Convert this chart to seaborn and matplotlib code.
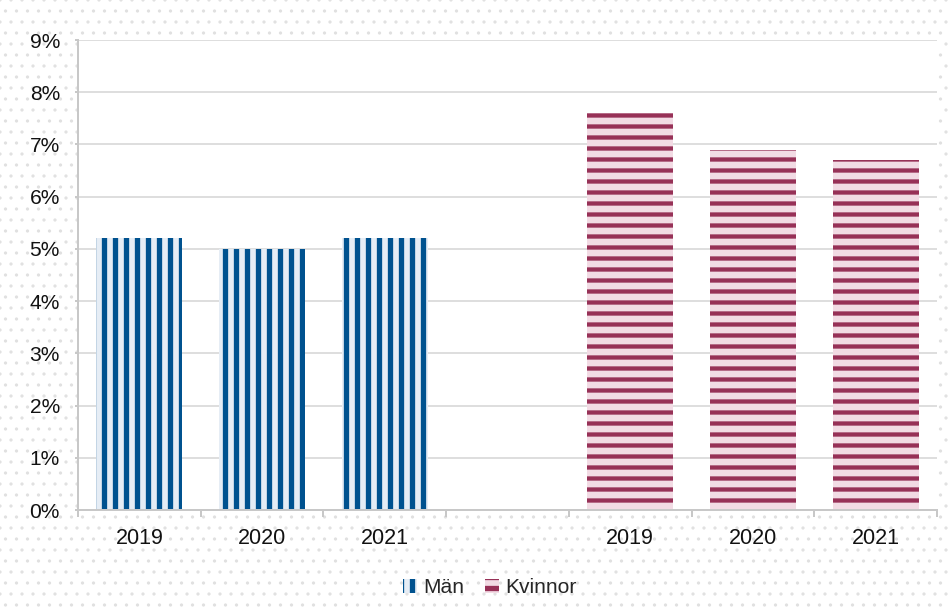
import matplotlib
matplotlib.use("Agg")
import matplotlib.pyplot as plt
import matplotlib.patches as mpatches
import numpy as np
import pandas as pd
import seaborn as sns

years = ["2019", "2020", "2021"]
man_values = [5.2, 5.0, 5.2]
kvinnor_values = [7.6, 6.9, 6.7]
groups = ["Män", "Kvinnor"]

dark_colors = {"Män": "#00528f", "Kvinnor": "#973157"}
light_colors = {"Män": "#e6edf5", "Kvinnor": "#f2dbe4"}
hatches = {"Män": "|", "Kvinnor": "-"}

DPI = 66


def px(v):
    # pixels -> points at this dpi
    return v * 72 / DPI


def build_frame():
    rows = []
    for y, v in zip(years, man_values):
        rows.append({"slot": "M" + y, "value": v, "group": "Män"})
    for y, v in zip(years, kvinnor_values):
        rows.append({"slot": "K" + y, "value": v, "group": "Kvinnor"})
    return pd.DataFrame(rows)


def main():
    sns.set_theme(style="white")
    plt.rcParams["font.family"] = ["Liberation Sans", "DejaVu Sans"]
    plt.rcParams["hatch.linewidth"] = px(5.3)

    df = build_frame()
    order = ["M" + y for y in years] + ["gap"] + ["K" + y for y in years]
    labels = years + [""] + years

    fig = plt.figure(figsize=(949 / DPI, 611 / DPI), dpi=DPI)
    fig.patch.set_facecolor("white")
    fig.patch.set_edgecolor("#e0e0e0")
    fig.patch.set_linewidth(0)
    fig.patch.set_hatch(".")
    if hasattr(fig.patch, "set_hatch_linewidth"):
        fig.patch.set_hatch_linewidth(px(1.0))

    ax = fig.add_axes([78 / 949, 1 - 510 / 611, (937 - 78) / 949, (510 - 40) / 611])
    ax.set_facecolor("white")

    sns.barplot(data=df, x="slot", y="value", hue="group", order=order,
                hue_order=groups, dodge=False, width=0.7, saturation=1,
                palette=light_colors, legend=False, ax=ax)

    for container, g in zip(ax.containers, groups):
        for bar in container:
            bar.set_facecolor(light_colors[g])
            bar.set_edgecolor(dark_colors[g])
            bar.set_linewidth(0)
            bar.set_hatch(hatches[g])
            if hasattr(bar, "set_hatch_linewidth"):
                bar.set_hatch_linewidth(px(5.3) if g == "Män" else px(4.3))

    ax.set_xlim(-0.5, len(order) - 0.5)
    ax.set_ylim(0, 9)
    ax.set_yticks(range(10))
    ax.set_yticklabels([f"{v}%" for v in range(10)])
    ax.set_xlabel("")
    ax.set_ylabel("")

    ax.set_xticks(np.arange(-0.5, len(order), 1))
    ax.set_xticklabels([])
    ax.set_xticks(range(len(order)), minor=True)
    ax.set_xticklabels(labels, minor=True)
    ax.tick_params(axis="x", which="major", length=px(7), width=px(2),
                   color="#c8c8c8", bottom=True)
    ax.tick_params(axis="x", which="minor", length=0, pad=px(18),
                   labelsize=px(21.5), labelcolor="#111111")
    ax.tick_params(axis="y", length=px(3), width=px(2), color="#c8c8c8",
                   pad=px(15), labelsize=px(21), labelcolor="#111111", left=True)

    ax.yaxis.grid(True, color="#dedede", linewidth=px(2))
    ax.set_axisbelow(True)
    for side in ["top", "right"]:
        ax.spines[side].set_visible(False)
    for side in ["left", "bottom"]:
        ax.spines[side].set_color("#c8c8c8")
        ax.spines[side].set_linewidth(px(2))

    handles = [mpatches.Patch(facecolor=light_colors[g], edgecolor=dark_colors[g],
                              hatch=hatches[g], linewidth=0, label=g) for g in groups]
    fig.legend(handles=handles, loc="center", bbox_to_anchor=(0.516, 0.038),
               ncol=2, frameon=False, fontsize=px(21), handlelength=0.65,
               handleheight=0.65, handletextpad=0.3, columnspacing=1.0)

    fig.savefig("out.png", dpi=DPI)
    plt.close(fig)


if __name__ == "__main__":
    main()
